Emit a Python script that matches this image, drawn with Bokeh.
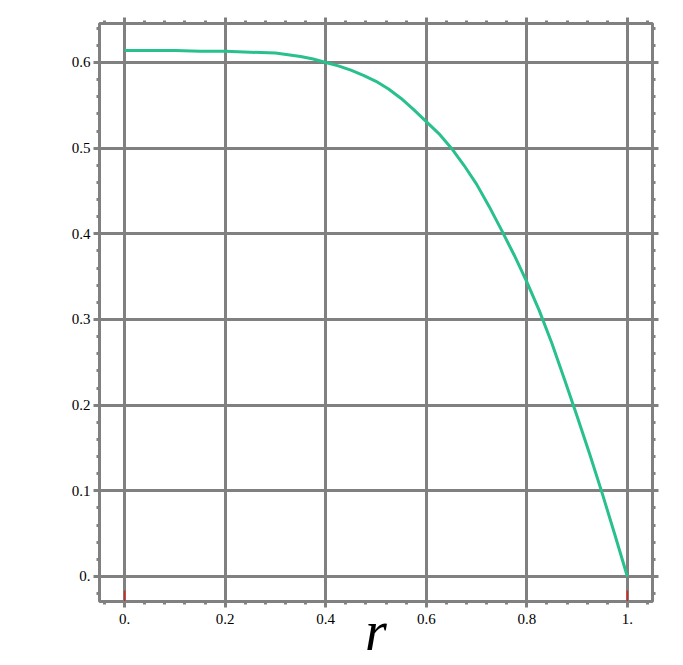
from bokeh.plotting import figure
from bokeh.models import FixedTicker, LinearAxis, Grid
from bokeh.embed import file_html
from bokeh.resources import INLINE
import numpy as np

# curve data
r_vals = [0.0, 0.05, 0.1, 0.15, 0.2, 0.25, 0.3, 0.35, 0.375, 0.4, 0.425, 0.45, 0.475,
          0.5, 0.525, 0.55, 0.575, 0.6, 0.625, 0.65, 0.675, 0.7, 0.725, 0.75, 0.775,
          0.8, 0.825, 0.85, 0.875, 0.9, 0.925, 0.95, 0.975, 1.0]
f_vals = [0.614, 0.614, 0.614, 0.613, 0.613, 0.612, 0.611, 0.607, 0.604, 0.600, 0.596,
          0.591, 0.585, 0.578, 0.569, 0.558, 0.545, 0.531, 0.517, 0.500, 0.480, 0.458,
          0.432, 0.404, 0.375, 0.344, 0.310, 0.272, 0.230, 0.187, 0.143, 0.097, 0.049, 0.0]

x_ticks = [0.0, 0.2, 0.4, 0.6, 0.8, 1.0]
x_tick_labels = ["0.", "0.2", "0.4", "0.6", "0.8", "1."]
y_ticks = [0.0, 0.1, 0.2, 0.3, 0.4, 0.5, 0.6]
y_tick_labels = ["0.", "0.1", "0.2", "0.3", "0.4", "0.5", "0.6"]
x_label = "r"

# red end markers on the r axis
mark_x = [0.0, 1.0]
mark_y0 = [-0.0165, -0.0165]
mark_y1 = [-0.029, -0.029]

x_minor = [round(v, 4) for v in np.arange(-0.04, 1.05, 0.04)]
y_minor = [round(v, 4) for v in np.arange(-0.02, 0.645, 0.02)]

GRAY = "#808080"
FONT = "Liberation Serif"

p = figure(width=675, height=665, x_range=(-0.05, 1.05), y_range=(-0.0292, 0.6455),
           output_backend="svg", toolbar_location=None,
           min_border_left=99, min_border_right=23, min_border_top=23, min_border_bottom=64,
           x_axis_type=None, y_axis_type=None)
p.background_fill_color = "white"
p.border_fill_color = "white"
p.outline_line_color = GRAY
p.outline_line_width = 3

xt = FixedTicker(ticks=x_ticks, minor_ticks=x_minor)
yt = FixedTicker(ticks=y_ticks, minor_ticks=y_minor)


def style_axis(ax, labels, ticks, show):
    ax.axis_line_color = None
    ax.major_tick_line_color = GRAY
    ax.major_tick_line_width = 3
    ax.major_tick_out = 6
    ax.major_tick_in = 0
    ax.minor_tick_line_color = GRAY
    ax.minor_tick_line_width = 3
    ax.minor_tick_out = 3
    ax.minor_tick_in = 0
    if show:
        ax.major_label_overrides = {t: l for t, l in zip(ticks, labels)}
        ax.major_label_text_font = FONT
        ax.major_label_text_font_size = "15px"
        ax.major_label_text_color = "black"
    else:
        ax.major_label_overrides = {t: "" for t in ticks}
        ax.major_label_text_font_size = "1px"
        ax.major_label_standoff = 0


xb = LinearAxis(ticker=xt)
style_axis(xb, x_tick_labels, x_ticks, True)
xb.major_label_standoff = 6
xb.axis_label = x_label
xb.axis_label_text_font = FONT
xb.axis_label_text_font_size = "56px"
xb.axis_label_text_font_style = "italic"
xb.axis_label_text_color = "black"
xb.axis_label_standoff = -27
p.add_layout(xb, "below")

yl = LinearAxis(ticker=yt)
style_axis(yl, y_tick_labels, y_ticks, True)
yl.major_label_standoff = 3
p.add_layout(yl, "left")

xa = LinearAxis(ticker=xt)
style_axis(xa, x_tick_labels, x_ticks, False)
p.add_layout(xa, "above")

yr = LinearAxis(ticker=yt)
style_axis(yr, y_tick_labels, y_ticks, False)
p.add_layout(yr, "right")

for dim, tk in ((0, xt), (1, yt)):
    g = Grid(dimension=dim, ticker=tk, grid_line_color=GRAY, grid_line_width=3,
             grid_line_alpha=1.0)
    p.add_layout(g, "center")

p.line(r_vals, f_vals, line_color="#28c08c", line_width=3)
p.segment(x0=mark_x, y0=mark_y0, x1=mark_x, y1=mark_y1, line_color="#d02828", line_width=1.5)

open("out.html", "w").write(file_html(p, INLINE))
